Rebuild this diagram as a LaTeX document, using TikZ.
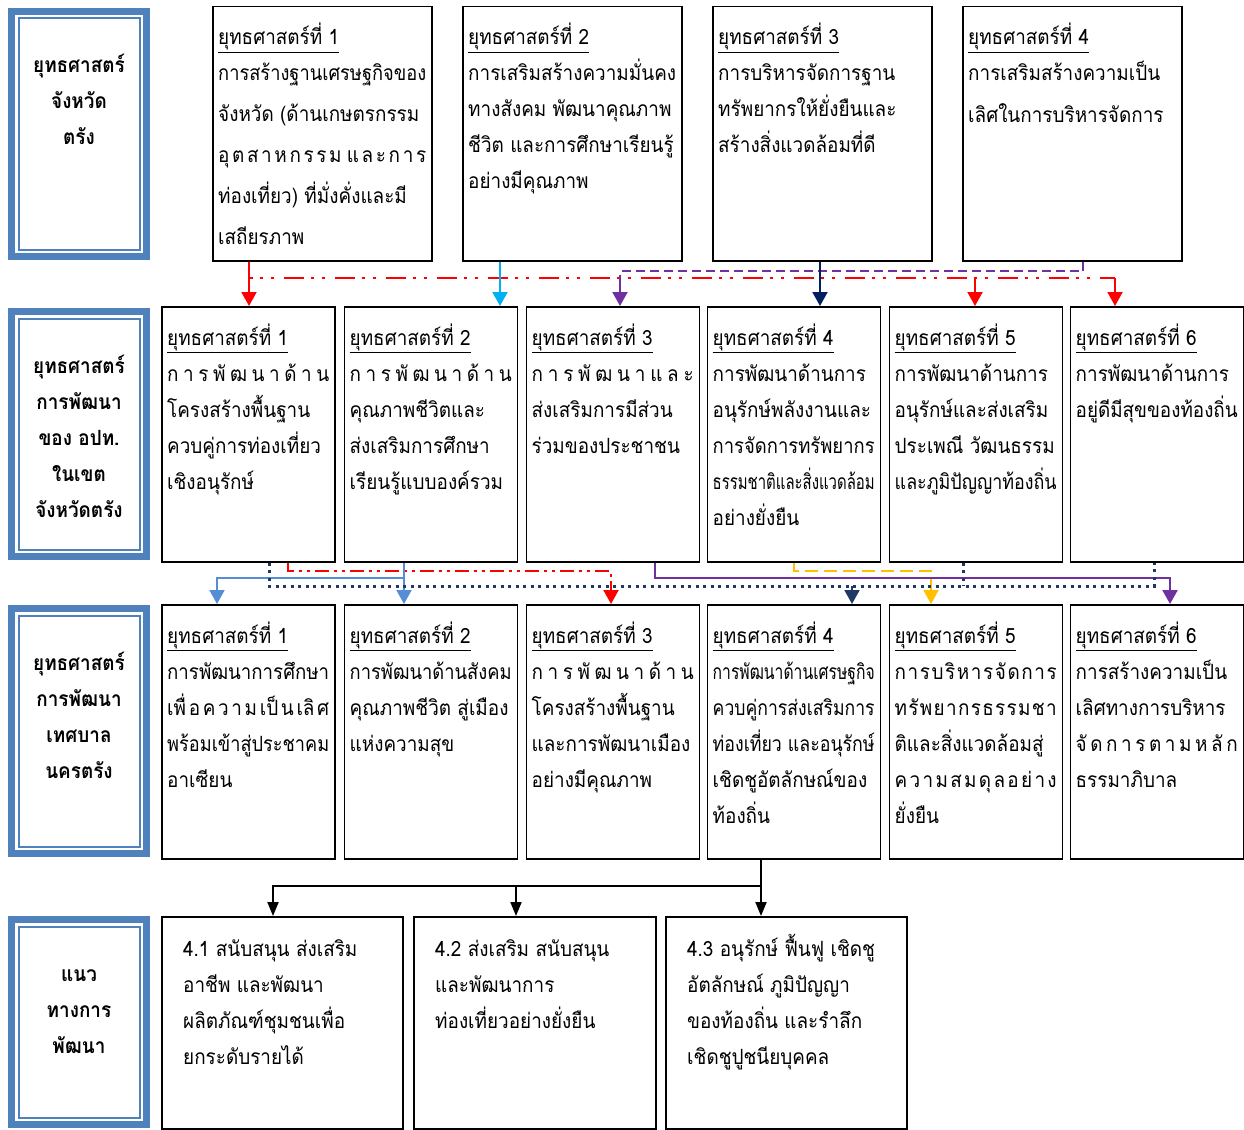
\documentclass[tikz,border=0pt]{standalone}
\usepackage{fontspec}
\usepackage{graphicx}
\setmainfont[Script=Thai, FakeStretch=0.9]{Loma}
\usetikzlibrary{arrows.meta}
\definecolor{lblue}{HTML}{4F81BD}
\definecolor{cred}{HTML}{FF0000}
\definecolor{ccyan}{HTML}{00B0F0}
\definecolor{cnavy}{HTML}{002060}
\definecolor{cnavyd}{HTML}{1F3864}
\definecolor{cpurple}{HTML}{7030A0}
\definecolor{csteel}{HTML}{558ED5}
\definecolor{cyellow}{HTML}{FFC000}
\newcommand\fs{\fontsize{21pt}{36pt}\selectfont}
\newlength\mw
\newsavebox\mybox
\newcommand\myl[1]{\sbox\mybox{#1}\ifdim\wd\mybox>\mw\resizebox{\mw}{\height}{\usebox\mybox}\else\usebox\mybox\fi}
\newcommand\mys[1]{\makebox[\mw][l]{#1}}
\newcommand\tx[6]{\node[txt] (#1) at (#2,#3) {\mw=#4\relax\parbox[t]{300pt}{\lineskiplimit=-1000pt\baselineskip=#5\relax #6}};}
\newcommand\bx[5]{\node[box, minimum width={#4-#2}, minimum height={#5-#3}] (#1) at (#2,#3) {};}
\newcommand\lb[5]{\node[lblo, minimum width={#4-#2}, minimum height={#5-#3}] (#1) at (#2,#3) {};
  \fill[white] ([shift={(7,7)}]#1.north west) rectangle ([shift={(-7,-7)}]#1.south east);
  \draw[lblue, line width=2pt] ([shift={(10.5,10.5)}]#1.north west) rectangle ([shift={(-10.5,-10.5)}]#1.south east);}
\begin{document}
\begin{tikzpicture}[x=1pt,y=-1pt,
 box/.style={draw=black, line width=1.5pt, inner sep=0pt, anchor=north west, fill=white},
 txt/.style={inner sep=0pt, anchor=base west, font=\fs},
 lbl/.style={inner sep=0pt, anchor=base, font=\fs\bfseries},
 lblo/.style={fill=lblue, inner sep=0pt, anchor=north west},
 tipA/.style={-{Triangle[width=15pt,length=14pt]}},
 tipB/.style={-{Triangle[width=11pt,length=14pt]}},
 redA/.style={draw=cred, line width=2pt, dash pattern=on 20pt off 7pt on 3pt off 8pt on 3pt off 10pt},
 redB/.style={draw=cred, line width=1.6pt, dash pattern=on 14pt off 5pt on 3pt off 5pt on 3pt off 5pt},
 purD/.style={draw=cpurple, line width=2pt, dash pattern=on 9pt off 5pt},
 purS/.style={draw=cpurple, line width=2.5pt},
 cyanS/.style={draw=ccyan, line width=2pt},
 navyS/.style={draw=cnavy, line width=2pt},
 navyD/.style={draw=cnavyd, line width=3pt, dash pattern=on 3pt off 4.5pt},
 steelS/.style={draw=csteel, line width=2pt},
 yelD/.style={draw=cyellow, line width=2pt, dash pattern=on 13pt off 6pt},
 blkS/.style={draw=black, line width=2pt}]
\useasboundingbox (0,0) rectangle (1244,1129);
% label boxes
\lb{L1}{8}{8}{150}{260}
\lb{L2}{8}{308}{150}{560}
\lb{L3}{8}{605}{150}{857}
\lb{L4}{8}{916}{150}{1128}
\node[lbl] (L1t) at (79,73) {\parbox[t]{130pt}{\centering\lineskiplimit=-1000pt\baselineskip=36pt ยุทธศาสตร์\\จังหวัด\\ตรัง}};
\node[lbl] (L2t) at (79,373) {\parbox[t]{130pt}{\centering\lineskiplimit=-1000pt\baselineskip=36pt ยุทธศาสตร์\\การพัฒนา\\ของ อปท.\\ในเขต\\จังหวัดตรัง}};
\node[lbl] (L3t) at (79,670) {\parbox[t]{130pt}{\centering\lineskiplimit=-1000pt\baselineskip=36pt ยุทธศาสตร์\\การพัฒนา\\เทศบาล\\นครตรัง}};
\node[lbl] (L4t) at (79,981) {\parbox[t]{130pt}{\centering\lineskiplimit=-1000pt\baselineskip=36pt แนว\\ทางการ\\พัฒนา}};
% row 1
\bx{r1b1}{212}{6}{431}{260}
\bx{r1b2}{462}{6}{681}{260}
\bx{r1b3}{712}{6}{931}{260}
\bx{r1b4}{962}{6}{1181}{260}
% row 2
\bx{r2b1}{161}{306}{334}{561}
\bx{r2b2}{343.5}{306}{516.5}{561}
\bx{r2b3}{525.5}{306}{698.5}{561}
\bx{r2b4}{706.5}{306}{879.5}{561}
\bx{r2b5}{888.5}{306}{1061.5}{561}
\bx{r2b6}{1069.5}{306}{1242.5}{561}
% row 3
\bx{r3b1}{161}{604}{334}{858}
\bx{r3b2}{343.5}{604}{516.5}{858}
\bx{r3b3}{525.5}{604}{698.5}{858}
\bx{r3b4}{706.5}{604}{879.5}{858}
\bx{r3b5}{888.5}{604}{1061.5}{858}
\bx{r3b6}{1069.5}{604}{1242.5}{858}
% row 4
\bx{r4b1}{161}{916}{402}{1128}
\bx{r4b2}{413}{916}{655}{1128}
\bx{r4b3}{665}{916}{906}{1128}
% texts row 1
\tx{t11}{218}{45}{208pt}{41pt}{\myl{\underline{ยุทธศาสตร์ที่ 1}}\\[-5pt]
\myl{การสร้างฐานเศรษฐกิจของ}\\
\myl{จังหวัด (ด้านเกษตรกรรม}\\
\mys{อุ\hfill ต\hfill ส\hfill า\hfill ห\hfill ก\hfill ร\hfill ร\hfill ม\hfill\hfill แ\hfill ล\hfill ะ\hfill ก\hfill า\hfill ร}\\
\myl{ท่องเที่ยว) ที่มั่งคั่งและมี}\\
\myl{เสถียรภาพ}}
\tx{t12}{468}{45}{208pt}{36pt}{\myl{\underline{ยุทธศาสตร์ที่ 2}}\\
\myl{การเสริมสร้างความมั่นคง}\\
\myl{ทางสังคม พัฒนาคุณภาพ}\\
\myl{ชีวิต และการศึกษาเรียนรู้}\\
\myl{อย่างมีคุณภาพ}}
\tx{t13}{718}{45}{208pt}{36pt}{\myl{\underline{ยุทธศาสตร์ที่ 3}}\\
\myl{การบริหารจัดการฐาน}\\
\myl{ทรัพยากรให้ยั่งยืนและ}\\
\myl{สร้างสิ่งแวดล้อมที่ดี}}
\tx{t14}{968}{45}{208pt}{36pt}{\myl{\underline{ยุทธศาสตร์ที่ 4}}\\
\myl{การเสริมสร้างความเป็น}\\[6pt]
\myl{เลิศในการบริหารจัดการ}}
% texts row 2
\tx{t21}{167}{345}{162pt}{36pt}{\myl{\underline{ยุทธศาสตร์ที่ 1}}\\
\mys{ก\hfill า\hfill ร\hfill พั\hfill ฒ\hfill น\hfill า\hfill ด้\hfill า\hfill น}\\
\myl{โครงสร้างพื้นฐาน}\\
\myl{ควบคู่การท่องเที่ยว}\\
\myl{เชิงอนุรักษ์}}
\tx{t22}{349.5}{345}{162pt}{36pt}{\myl{\underline{ยุทธศาสตร์ที่ 2}}\\
\mys{ก\hfill า\hfill ร\hfill พั\hfill ฒ\hfill น\hfill า\hfill ด้\hfill า\hfill น}\\
\myl{คุณภาพชีวิตและ}\\
\myl{ส่งเสริมการศึกษา}\\
\myl{เรียนรู้แบบองค์รวม}}
\tx{t23}{531.5}{345}{162pt}{36pt}{\myl{\underline{ยุทธศาสตร์ที่ 3}}\\
\mys{ก\hfill า\hfill ร\hfill พั\hfill ฒ\hfill น\hfill า\hfill แ\hfill ล\hfill ะ}\\
\myl{ส่งเสริมการมีส่วน}\\
\myl{ร่วมของประชาชน}}
\tx{t24}{712.5}{345}{162pt}{36pt}{\myl{\underline{ยุทธศาสตร์ที่ 4}}\\
\myl{การพัฒนาด้านการ}\\
\myl{อนุรักษ์พลังงานและ}\\
\myl{การจัดการทรัพยากร}\\
\myl{ธรรมชาติและสิ่งแวดล้อม}\\
\myl{อย่างยั่งยืน}}
\tx{t25}{894.5}{345}{162pt}{36pt}{\myl{\underline{ยุทธศาสตร์ที่ 5}}\\
\myl{การพัฒนาด้านการ}\\
\myl{อนุรักษ์และส่งเสริม}\\
\myl{ประเพณี วัฒนธรรม}\\
\myl{และภูมิปัญญาท้องถิ่น}}
\tx{t26}{1075.5}{345}{162pt}{36pt}{\myl{\underline{ยุทธศาสตร์ที่ 6}}\\
\myl{การพัฒนาด้านการ}\\
\myl{อยู่ดีมีสุขของท้องถิ่น}}
% texts row 3
\tx{t31}{167}{643}{162pt}{36pt}{\myl{\underline{ยุทธศาสตร์ที่ 1}}\\
\myl{การพัฒนาการศึกษา}\\
\mys{เพื่\hfill อ\hfill ค\hfill ว\hfill า\hfill ม\hfill เป็\hfill น\hfill เลิ\hfill ศ}\\
\myl{พร้อมเข้าสู่ประชาคม}\\
\myl{อาเซียน}}
\tx{t32}{349.5}{643}{162pt}{36pt}{\myl{\underline{ยุทธศาสตร์ที่ 2}}\\
\myl{การพัฒนาด้านสังคม}\\
\myl{คุณภาพชีวิต สู่เมือง}\\
\myl{แห่งความสุข}}
\tx{t33}{531.5}{643}{162pt}{36pt}{\myl{\underline{ยุทธศาสตร์ที่ 3}}\\
\mys{ก\hfill า\hfill ร\hfill พั\hfill ฒ\hfill น\hfill า\hfill ด้\hfill า\hfill น}\\
\myl{โครงสร้างพื้นฐาน}\\
\myl{และการพัฒนาเมือง}\\
\myl{อย่างมีคุณภาพ}}
\tx{t34}{712.5}{643}{162pt}{36pt}{\myl{\underline{ยุทธศาสตร์ที่ 4}}\\
\myl{การพัฒนาด้านเศรษฐกิจ}\\
\myl{ควบคู่การส่งเสริมการ}\\
\myl{ท่องเที่ยว และอนุรักษ์}\\
\myl{เชิดชูอัตลักษณ์ของ}\\
\myl{ท้องถิ่น}}
\tx{t35}{894.5}{643}{162pt}{36pt}{\myl{\underline{ยุทธศาสตร์ที่ 5}}\\
\mys{ก\hfill า\hfill ร\hfill บ\hfill ริ\hfill ห\hfill า\hfill ร\hfill จั\hfill ด\hfill ก\hfill า\hfill ร}\\
\mys{ท\hfill รั\hfill พ\hfill ย\hfill า\hfill ก\hfill ร\hfill ธ\hfill ร\hfill ร\hfill ม\hfill ช\hfill า}\\
\myl{ติและสิ่งแวดล้อมสู่}\\
\mys{ค\hfill ว\hfill า\hfill ม\hfill ส\hfill ม\hfill ดุ\hfill ล\hfill อ\hfill ย่\hfill า\hfill ง}\\
\myl{ยั่งยืน}}
\tx{t36}{1075.5}{643}{162pt}{36pt}{\myl{\underline{ยุทธศาสตร์ที่ 6}}\\
\myl{การสร้างความเป็น}\\
\myl{เลิศทางการบริหาร}\\
\mys{จั\hfill ด\hfill ก\hfill า\hfill ร\hfill ต\hfill า\hfill ม\hfill ห\hfill ลั\hfill ก}\\
\myl{ธรรมาภิบาล}}
% texts row 4
\tx{t41}{183}{956}{215pt}{36pt}{\myl{4.1 สนับสนุน ส่งเสริม}\\
\myl{อาชีพ และพัฒนา}\\
\myl{ผลิตภัณฑ์ชุมชนเพื่อ}\\
\myl{ยกระดับรายได้}}
\tx{t42}{435}{956}{215pt}{36pt}{\myl{4.2 ส่งเสริม สนับสนุน}\\
\myl{และพัฒนาการ}\\
\myl{ท่องเที่ยวอย่างยั่งยืน}}
\tx{t43}{687}{956}{215pt}{36pt}{\myl{4.3 อนุรักษ์ ฟื้นฟู เชิดชู}\\
\myl{อัตลักษณ์ ภูมิปัญญา}\\
\myl{ของท้องถิ่น และรำลึก}\\
\myl{เชิดชูปูชนียบุคคล}}
% coordinates
\coordinate (xa) at (249,0);
\coordinate (xb) at (500,0);
\coordinate (xc) at (620,0);
\coordinate (xd) at (820,0);
\coordinate (xe) at (975,0);
\coordinate (xf) at (1115,0);
\coordinate (xg) at (1083,0);
\coordinate (yr) at (0,278);
\coordinate (yp) at (0,271);
% row1 -> row2
\draw[redA] (r1b1.south -| xa) -- (xa |- yr) -- (xf |- yr);
\draw[redA, tipA] (xa |- yr) -- (r2b1.north -| xa);
\draw[draw=cred, line width=2pt, tipA] (xe |- yr) -- (r2b5.north -| xe);
\draw[draw=cred, line width=2pt, tipA] (xf |- yr) -- (r2b6.north -| xf);
\draw[purD] (r1b4.south -| xg) -- (xg |- yp) -- (xc |- yp) -- ([yshift=-8pt]xc |- yp);
\draw[draw=cpurple, line width=2pt, tipA] ([yshift=-8pt]xc |- yp) -- (r2b3.north -| xc);
\draw[cyanS, tipA] (r1b2.south -| xb) -- (r2b2.north -| xb);
\draw[navyS, tipA] (r1b3.south -| xd) -- (r2b4.north -| xd);
% row2 -> row3
\coordinate (n1) at (269,0);
\coordinate (n4) at (852,0);
\coordinate (n5) at (963,0);
\coordinate (n6) at (1154,0);
\coordinate (yn) at (0,586);
\coordinate (s1) at (217,0);
\coordinate (s2) at (404,0);
\coordinate (ys) at (0,578);
\coordinate (q1) at (288,0);
\coordinate (q3) at (611,0);
\coordinate (yq) at (0,571);
\coordinate (p3) at (655,0);
\coordinate (p6) at (1170,0);
\coordinate (yy1) at (794,0);
\coordinate (yy5) at (931,0);
\draw[yelD] (r2b4.south -| yy1) -- (yy1 |- yq) -- (yy5 |- yq) -- ([yshift=-10pt]yy5 |- yq);
\draw[draw=cyellow, line width=2pt, tipA] ([yshift=-10pt]yy5 |- yq) -- (r3b5.north -| yy5);
\draw[redB] (r2b1.south -| q1) -- (q1 |- yq) -- (q3 |- yq) -- ([yshift=-10pt]q3 |- yq);
\draw[draw=cred, line width=2pt, tipA] ([yshift=-10pt]q3 |- yq) -- (r3b3.north -| q3);
\draw[steelS, tipA] (r2b2.south -| s2) -- (r3b2.north -| s2);
\draw[steelS, tipA] (s2 |- ys) -- (s1 |- ys) -- (r3b1.north -| s1);
\draw[purS, tipA] (r2b3.south -| p3) -- (p3 |- ys) -- (p6 |- ys) -- (r3b6.north -| p6);
\draw[navyD] (r2b1.south -| n1) -- (n1 |- yn) -- (n6 |- yn) -- (r2b6.south -| n6);
\draw[navyD] (r2b5.south -| n5) -- (n5 |- yn);
\draw[draw=cnavyd, line width=2pt, tipA] (n4 |- yn) -- (r3b4.north -| n4);
% row3 -> row4
\coordinate (k1) at (273,0);
\coordinate (k2) at (516,0);
\coordinate (k3) at (761,0);
\coordinate (yk) at (0,886);
\draw[blkS, tipB] (r3b4.south -| k3) -- (r4b3.north -| k3);
\draw[blkS, tipB] (k3 |- yk) -- (k1 |- yk) -- (r4b1.north -| k1);
\draw[blkS, tipB] (k2 |- yk) -- (r4b2.north -| k2);
\end{tikzpicture}
\end{document}
